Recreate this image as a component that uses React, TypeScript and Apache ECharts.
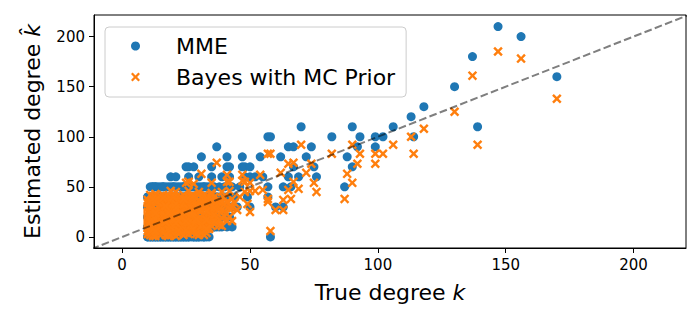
import React, { useEffect, useRef } from "react";
import * as echarts from "echarts";

const FONT = "DejaVu Sans";
const tickValues = [0, 50, 100, 150, 200];
const xRange = [-11, 220.5];
const yRange = [-11, 221.5];
const identityLine = [-20, 240];

// [true degree k, MME estimate, Bayes estimate]
const clusterLevel0 = [
  [10, 0, 3], [11, 0, 2], [12, 0, 4], [13, 0, 3], [14, 0, 5], [15, 0, 2], [16, 0, 4], [17, 0, 6],
  [18, 0, 3], [19, 0, 5], [20, 0, 4], [21, 0, 7], [22, 0, 3], [23, 0, 5], [24, 0, 6], [25, 0, 4],
  [26, 0, 8], [27, 0, 5], [28, 0, 6], [29, 0, 7], [30, 0, 5], [31, 0, 7], [32, 0, 6], [34, 0, 8],
  [58, 0, 6],
];
const clusterLevel10 = [
  [10, 10, 9], [11, 10, 11], [12, 10, 8], [13, 10, 12], [14, 10, 10], [15, 10, 13], [16, 10, 9],
  [17, 10, 11], [18, 10, 14], [19, 10, 10], [20, 10, 12], [21, 10, 9], [22, 10, 13], [23, 10, 11],
  [24, 10, 15], [25, 10, 10], [26, 10, 12], [27, 10, 14], [28, 10, 11], [29, 10, 13], [30, 10, 10],
  [32, 10, 12], [33, 10, 14], [35, 10, 11], [36, 10, 13], [38, 10, 12], [41, 10, 16], [43, 10, 16],
];
const clusterLevel20 = [
  [10, 20, 17], [11, 20, 19], [12, 20, 16], [13, 20, 21], [14, 20, 18], [15, 20, 20], [16, 20, 17],
  [17, 20, 22], [18, 20, 19], [19, 20, 16], [20, 20, 21], [21, 20, 18], [22, 20, 20], [23, 20, 23],
  [24, 20, 17], [25, 20, 19], [26, 20, 22], [27, 20, 18], [28, 20, 20], [29, 20, 21], [30, 20, 19],
  [31, 20, 17], [33, 20, 20], [34, 20, 22], [36, 20, 18], [37, 20, 21], [39, 20, 19], [42, 20, 20],
];
const clusterLevel30 = [
  [10, 30, 25], [11, 30, 27], [12, 30, 24], [13, 30, 28], [14, 30, 26], [15, 30, 29], [16, 30, 25],
  [17, 30, 27], [18, 30, 30], [19, 30, 26], [20, 30, 28], [21, 30, 24], [22, 30, 27], [23, 30, 29],
  [24, 30, 26], [25, 30, 28], [26, 30, 31], [27, 30, 25], [28, 30, 27], [29, 30, 29], [30, 30, 26],
  [32, 30, 28], [33, 30, 30], [35, 30, 27], [36, 30, 25], [38, 30, 28], [40, 30, 26], [43, 30, 29],
  [45, 30, 27], [50, 30, 25], [60, 30, 27], [63, 30, 27],
];
const clusterLevel40 = [
  [10, 40, 34], [11, 40, 32], [12, 40, 36], [13, 40, 33], [14, 40, 35], [15, 40, 31], [16, 40, 34],
  [17, 40, 36], [18, 40, 32], [19, 40, 35], [20, 40, 33], [21, 40, 37], [22, 40, 31], [23, 40, 34],
  [24, 40, 36], [25, 40, 32], [26, 40, 35], [27, 40, 33], [28, 40, 30], [29, 40, 34], [30, 40, 36],
  [31, 40, 32], [32, 40, 35], [33, 40, 31], [34, 40, 33], [35, 40, 36], [36, 40, 34], [37, 40, 32],
  [38, 40, 35], [40, 40, 33], [42, 40, 31], [44, 40, 34], [49, 40, 33], [57, 40, 35],
];
const clusterLevel50 = [
  [12, 50, 41], [13, 50, 43], [14, 50, 40], [16, 50, 42], [17, 50, 39], [18, 50, 41], [20, 50, 43],
  [21, 50, 40], [22, 50, 38], [24, 50, 42], [25, 50, 39], [26, 50, 41], [28, 50, 37], [29, 50, 40],
  [30, 50, 42], [32, 50, 38], [33, 50, 41], [34, 50, 39], [36, 50, 40], [38, 50, 37], [40, 50, 39],
  [43, 50, 38], [46, 50, 40], [57, 50, 38], [63, 50, 37], [66, 50, 38], [87, 50, 38],
];
const clusterExtraLow = [
  [10, 0, 6], [12, 0, 1], [14, 0, 8], [16, 0, 7], [18, 0, 1], [20, 0, 8], [22, 0, 6], [24, 0, 2],
  [26, 0, 3], [28, 0, 9], [30, 0, 2], [33, 0, 4], [11, 0, 5], [15, 0, 6], [19, 0, 2], [23, 0, 8],
  [10, 10, 13], [12, 10, 15], [14, 10, 7], [16, 10, 14], [18, 10, 8], [20, 10, 16], [22, 10, 7],
  [24, 10, 12], [26, 10, 15], [28, 10, 8], [30, 10, 14], [31, 10, 11], [34, 10, 9], [37, 10, 15],
  [39, 10, 11], [11, 10, 14], [15, 10, 10], [19, 10, 13], [23, 10, 9], [27, 10, 10],
];
const clusterExtraMid = [
  [10, 20, 21], [12, 20, 23], [14, 20, 15], [16, 20, 22], [18, 20, 16], [20, 20, 18], [22, 20, 16],
  [24, 20, 22], [26, 20, 18], [28, 20, 23], [30, 20, 16], [32, 20, 22], [35, 20, 19], [38, 20, 17],
  [40, 20, 21], [11, 20, 16], [15, 20, 23], [19, 20, 20], [23, 20, 19], [27, 20, 21],
  [10, 30, 29], [12, 30, 31], [14, 30, 23], [16, 30, 29], [18, 30, 24], [20, 30, 31], [22, 30, 24],
  [24, 30, 29], [26, 30, 26], [28, 30, 24], [30, 30, 30], [31, 30, 27], [34, 30, 25], [37, 30, 29],
  [39, 30, 27], [42, 30, 28], [11, 30, 30], [15, 30, 26], [19, 30, 29], [23, 30, 25], [27, 30, 29],
];
const clusterExtraHigh = [
  [10, 40, 37], [12, 40, 31], [14, 40, 38], [16, 40, 30], [18, 40, 37], [20, 40, 30], [22, 40, 36],
  [24, 40, 33], [26, 40, 38], [28, 40, 35], [30, 40, 31], [32, 40, 37], [34, 40, 36], [36, 40, 31],
  [39, 40, 34], [41, 40, 35], [11, 40, 35], [15, 40, 37], [19, 40, 31], [23, 40, 37], [27, 40, 30],
  [11, 50, 42], [13, 50, 39], [15, 50, 41], [19, 50, 38], [23, 50, 40], [27, 50, 41], [31, 50, 39],
  [35, 50, 42],
];
const clusterExtraFill = [
  [13, 0, 1], [17, 0, 2], [21, 0, 1], [25, 0, 7], [29, 0, 3], [32, 0, 2],
  [13, 10, 6], [17, 10, 15], [21, 10, 14], [25, 10, 7], [29, 10, 16], [33, 10, 8], [36, 10, 16],
  [13, 20, 18], [17, 20, 15], [21, 20, 23], [25, 20, 16], [29, 20, 18], [33, 20, 17], [36, 20, 22],
  [13, 30, 24], [17, 30, 31], [21, 30, 29], [25, 30, 24], [29, 30, 31], [33, 30, 26], [36, 30, 29],
  [13, 40, 37], [17, 40, 31], [21, 40, 33], [25, 40, 37], [29, 40, 31], [33, 40, 37], [37, 40, 36],
  [12, 50, 38], [16, 50, 39], [20, 50, 40], [24, 50, 38], [28, 50, 41], [32, 50, 42],
];
const midRange = [
  [19, 60, 46], [21, 60, 45], [26, 60, 46], [30, 60, 45], [35, 60, 44], [39, 60, 45], [42, 60, 46],
  [48, 60, 45], [50, 60, 46], [52, 60, 46], [55, 60, 47], [65, 60, 47], [69, 60, 48], [76, 60, 45],
  [25, 70, 54], [26, 70, 55], [28, 70, 53], [35, 70, 54], [41, 70, 55], [42, 70, 55], [47, 70, 56],
  [48, 70, 55], [50, 70, 54], [67, 70, 55], [75, 70, 54], [90, 70, 54],
  [31, 80, 63], [41, 80, 62], [47, 80, 62], [54, 80, 62], [62, 80, 64], [72, 80, 64], [88, 80, 63],
  [37, 90, 74], [65, 90, 73], [67, 90, 74], [74, 90, 73], [92, 90, 73], [99, 90, 73],
];
const upperRange = [
  [57, 100, 83], [58, 100, 83], [82, 100, 83], [93, 100, 83], [99, 100, 83], [102, 100, 83], [114, 100, 83],
  [70, 110, 92], [90, 110, 92], [106, 110, 92], [139, 110, 92],
  [113, 120, 100], [118, 130, 108], [130, 150, 125], [170, 160, 138], [137, 180, 161],
  [156, 200, 178], [147, 210, 185],
];

const allRows = [
  ...clusterLevel0, ...clusterLevel10, ...clusterLevel20, ...clusterLevel30,
  ...clusterLevel40, ...clusterLevel50, ...clusterExtraLow, ...clusterExtraMid,
  ...clusterExtraHigh, ...clusterExtraFill, ...midRange, ...upperRange,
];

const X_PATH =
  "path://M0,1.8L1.8,0L5,3.2L8.2,0L10,1.8L6.8,5L10,8.2L8.2,10L5,6.8L1.8,10L0,8.2L3.2,5Z";

export default function App() {
  const ref = useRef<HTMLDivElement>(null);
  useEffect(() => {
    if (!ref.current) return;
    const chart = echarts.init(ref.current, undefined, { renderer: "svg" });
    const mmeData = allRows.map((r) => [r[0], r[1]]);
    const bayesData = allRows.map((r) => [r[0], r[2]]);
    const axisCommon = {
      type: "value" as const,
      splitLine: { show: false },
      axisLine: { show: true, onZero: false, lineStyle: { color: "#000", width: 1 } },
      axisTick: {
        show: true,
        length: 5,
        customValues: tickValues,
        lineStyle: { color: "#000", width: 1 },
      },
      axisLabel: {
        customValues: tickValues,
        fontFamily: FONT,
        fontSize: 15,
        color: "#000",
        margin: 9,
      },
    };
    chart.setOption({
      animation: false,
      grid: {
        left: 94,
        top: 15,
        right: 14,
        bottom: 72,
        show: true,
        borderColor: "#000",
        borderWidth: 1,
        backgroundColor: "transparent",
      },
      legend: {
        orient: "vertical",
        left: 105,
        top: 27,
        itemWidth: 9,
        itemHeight: 9,
        itemGap: 5,
        padding: [6, 11, 7, 26],
        borderColor: "#cccccc",
        borderWidth: 1,
        borderRadius: 4,
        backgroundColor: "rgba(255,255,255,0.8)",
        textStyle: {
          fontFamily: FONT,
          fontSize: 22,
          color: "#000",
          lineHeight: 26,
          padding: [0, 0, 0, 31],
        },
        data: [
          { name: "MME", icon: "circle" },
          { name: "Bayes with MC Prior", icon: X_PATH },
        ],
      },
      xAxis: {
        ...axisCommon,
        min: xRange[0],
        max: xRange[1],
        name: "{n|True degree }{i|k}",
        nameLocation: "middle",
        nameGap: 33,
        nameTextStyle: {
          fontFamily: FONT,
          fontSize: 22,
          color: "#000",
          rich: {
            n: { fontFamily: FONT, fontSize: 22, color: "#000" },
            i: { fontFamily: FONT, fontSize: 22, fontStyle: "italic", color: "#000" },
          },
        },
      },
      yAxis: {
        ...axisCommon,
        min: yRange[0],
        max: yRange[1],
        name: "{n|Estimated degree }{i|k\u0302}",
        nameLocation: "middle",
        nameRotate: 90,
        nameGap: 51,
        nameTextStyle: {
          fontFamily: FONT,
          fontSize: 22,
          color: "#000",
          rich: {
            n: { fontFamily: FONT, fontSize: 22, color: "#000" },
            i: { fontFamily: FONT, fontSize: 22, fontStyle: "italic", color: "#000" },
          },
        },
      },
      series: [
        {
          name: "MME",
          type: "scatter",
          symbol: "circle",
          symbolSize: 9,
          itemStyle: { color: "#1f77b4", opacity: 1 },
          data: mmeData,
          z: 2,
        },
        {
          name: "Bayes with MC Prior",
          type: "scatter",
          symbol: X_PATH,
          symbolSize: 9.5,
          itemStyle: { color: "#ff7f0e", opacity: 1 },
          data: bayesData,
          z: 3,
        },
        {
          name: "identity",
          type: "line",
          data: [
            [identityLine[0], identityLine[0]],
            [identityLine[1], identityLine[1]],
          ],
          symbol: "none",
          silent: true,
          clip: true,
          lineStyle: { color: "rgba(0,0,0,0.5)", width: 2, type: [7.7, 3.3] },
          z: 4,
        },
      ],
    });
    return () => chart.dispose();
  }, []);
  return (
    <div
      ref={ref}
      style={{ position: "fixed", left: 0, top: 0, width: 700, height: 320, background: "#fff" }}
    />
  );
}
